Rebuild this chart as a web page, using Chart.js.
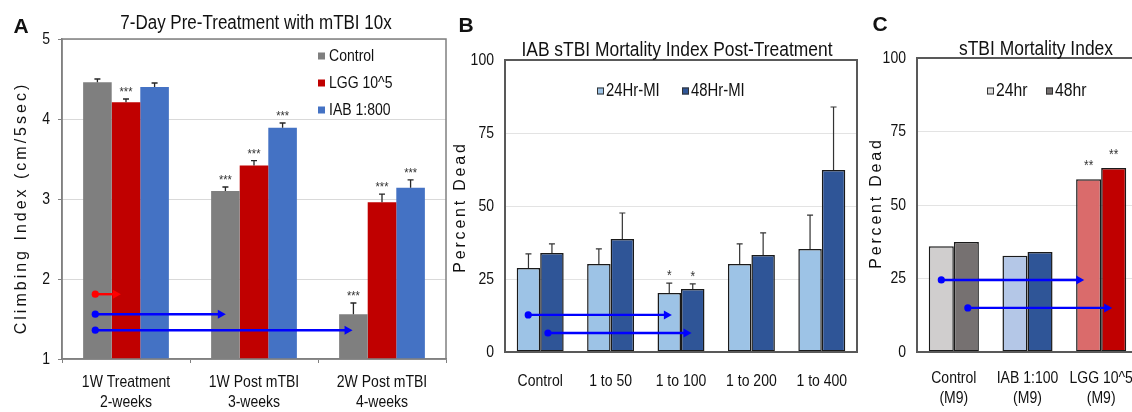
<!DOCTYPE html>
<html><head><meta charset="utf-8">
<script src="https://cdn.jsdelivr.net/npm/chart.js@4.4.0/dist/chart.umd.min.js"></script>
<style>
html,body{margin:0;padding:0;background:#fff;overflow:hidden;width:1132px;height:412px;position:relative}
canvas{position:absolute;top:0}
</style></head><body>
<canvas id="cA" width="452" height="412" style="left:0px"></canvas>
<canvas id="cB" width="417" height="412" style="left:448px"></canvas>
<canvas id="cC" width="282" height="412" style="left:866px"></canvas>
<script>
// ---------- Panel A data ----------
const aCategories = [['1W Treatment', '2-weeks'], ['1W Post mTBI', '3-weeks'], ['2W Post mTBI', '4-weeks']];
const aSeriesNames = ['Control', 'LGG 10^5', 'IAB 1:800'];
const aControl = [4.46, 3.10, 1.56];
const aLGG = [4.21, 3.42, 2.96];
const aIAB = [4.40, 3.89, 3.14];
const aControlErr = [0.04, 0.05, 0.14];
const aLGGErr = [0.04, 0.06, 0.10];
const aIABErr = [0.05, 0.06, 0.10];
const aControlSig = ['', '***', '***'];
const aLGGSig = ['***', '***', '***'];
const aIABSig = ['', '***', '***'];
const aYTicks = [1, 2, 3, 4, 5];
const aArrowY = [1.81, 1.56, 1.36];
const aArrowFrom = [-0.24, -0.24, -0.24];
const aArrowTo = [-0.04, 0.78, 1.77];

// ---------- Panel B data ----------
const bCategories = ['Control', '1 to 50', '1 to 100', '1 to 200', '1 to 400'];
const bSeriesNames = ['24Hr-MI', '48Hr-MI'];
const b24 = [28.8, 30.1, 20.2, 30.1, 35.3];
const b48 = [33.9, 38.7, 21.6, 33.2, 62.3];
const b24Err = [4.8, 5.2, 3.4, 6.9, 11.6];
const b48Err = [3.1, 8.9, 1.7, 7.6, 21.6];
const b24Sig = ['', '', '*', '', ''];
const b48Sig = ['', '', '*', '', ''];
const bYTicks = [0, 25, 50, 75, 100];
const bArrowY = [12.7, 6.5];
const bArrowFrom = [-0.17, 0.11];
const bArrowTo = [1.87, 2.15];

// ---------- Panel C data ----------
const cCategories = [['Control', '(M9)'], ['IAB 1:100', '(M9)'], ['LGG 10^5', '(M9)']];
const cSeriesNames = ['24hr', '48hr'];
const c24 = [36.0, 32.7, 58.8];
const c48 = [37.4, 34.0, 62.6];
const c24Sig = ['', '', '**'];
const c48Sig = ['', '', '**'];
const cYTicks = [0, 25, 50, 75, 100];
const cArrowY = [24.5, 15.0];
const cArrowFrom = [-0.17, 0.19];
const cArrowTo = [1.77, 2.15];

// ---------- styling ----------
const FONT = "'Liberation Sans',Arial,sans-serif";
const TXT = '#111111';
const NARROW_FACTOR = 0.85;
Chart.defaults.font.family = FONT;
Chart.defaults.color = TXT;
Chart.defaults.animation = false;

// condensed look for canvas text (Arial-Narrow-like), text stays real text
function narrowText(canvas, f) {
  const ctx = canvas.getContext('2d');
  const orig = ctx.fillText;
  ctx.narrow = f;
  ctx.fillText = function (text, x, y, mw) {
    const k = this.narrow;
    if (k === 1) {
      return mw === undefined ? orig.call(this, text, x, y) : orig.call(this, text, x, y, mw);
    }
    this.save();
    this.translate(x, y);
    this.scale(k, 1);
    if (mw === undefined) orig.call(this, text, 0, 0); else orig.call(this, text, 0, 0, mw / k);
    this.restore();
  };
}

const decor = {
  id: 'decor',
  afterDatasetsDraw(chart, args, o) {
    const ctx = chart.ctx, ys = chart.scales.y;
    ctx.save();
    chart.data.datasets.forEach((ds, di) => {
      const meta = chart.getDatasetMeta(di);
      meta.data.forEach((bar, i) => {
        const v = ds.data[i];
        const e = ds.errors ? ds.errors[i] : 0;
        const topPx = ys.getPixelForValue(v + e);
        if (e > 0) {
          ctx.strokeStyle = o.errColor; ctx.lineWidth = o.errWidth;
          ctx.beginPath();
          ctx.moveTo(bar.x, bar.y); ctx.lineTo(bar.x, topPx);
          ctx.moveTo(bar.x - o.capHalf, topPx); ctx.lineTo(bar.x + o.capHalf, topPx);
          ctx.stroke();
        }
        const s = ds.sig ? ds.sig[i] : '';
        if (s) {
          ctx.fillStyle = '#333333'; ctx.font = o.sigFont;
          ctx.textAlign = 'center'; ctx.textBaseline = 'alphabetic';
          ctx.fillText(s, bar.x, topPx - o.sigGap);
        }
      });
    });
    ctx.restore();
  },
  afterDraw(chart, args, o) {
    const ctx = chart.ctx, ca = chart.chartArea, xs = chart.scales.x, ys = chart.scales.y;
    ctx.save();
    // frame
    ctx.strokeStyle = o.frameColor; ctx.lineWidth = o.frameWidth;
    ctx.strokeRect(ca.left, ca.top, ca.right - ca.left, ca.bottom - ca.top);
    // arrows
    (o.arrows || []).forEach(a => {
      a.y.forEach((yv, k) => {
        const y = ys.getPixelForValue(yv);
        const x1 = xs.getPixelForValue(a.from[k]);
        const x2 = xs.getPixelForValue(a.to[k]);
        const col = a.colors[k];
        ctx.strokeStyle = col; ctx.fillStyle = col; ctx.lineWidth = 2.4;
        ctx.beginPath(); ctx.moveTo(x1, y); ctx.lineTo(x2 - 6, y); ctx.stroke();
        ctx.beginPath(); ctx.arc(x1, y, 3.6, 0, Math.PI * 2); ctx.fill();
        ctx.beginPath(); ctx.moveTo(x2, y); ctx.lineTo(x2 - 8, y - 4.5); ctx.lineTo(x2 - 8, y + 4.5); ctx.closePath(); ctx.fill();
      });
    });
    // legend
    const L = o.legend;
    if (L) {
      chart.data.datasets.forEach((ds, di) => {
        const x = ca.left + L.x + di * L.dx, y = ca.top + L.y + di * L.dy;
        ctx.fillStyle = ds.legendColor || ds.backgroundColor;
        ctx.fillRect(x, y - L.box / 2, L.box, L.box);
        if (L.border) { ctx.strokeStyle = L.border; ctx.lineWidth = 1; ctx.strokeRect(x + 0.5, y - L.box / 2 + 0.5, L.box - 1, L.box - 1); }
        ctx.fillStyle = TXT; ctx.font = L.font; ctx.textAlign = 'left'; ctx.textBaseline = 'middle';
        ctx.fillText(ds.label, x + L.box + L.gap, y);
      });
    }
    // texts
    (o.texts || []).forEach(t => {
      ctx.save();
      const keep = ctx.narrow;
      if (t.wide) ctx.narrow = 1;
      ctx.font = t.font; ctx.fillStyle = TXT; ctx.textAlign = 'center'; ctx.textBaseline = 'middle';
      ctx.translate(t.x, t.y);
      if (t.rot) ctx.rotate(-Math.PI / 2);
      if (t.spacing) ctx.letterSpacing = t.spacing + 'px';
      ctx.fillText(t.text, 0, 0);
      ctx.narrow = keep;
      ctx.restore();
    });
    ctx.restore();
  }
};

function makeChart(id, cfg) {
  const canvas = document.getElementById(id);
  narrowText(canvas, NARROW_FACTOR);
  return new Chart(canvas, {
    type: 'bar',
    data: { labels: cfg.labels, datasets: cfg.datasets },
    options: {
      responsive: false,
      devicePixelRatio: 1,
      layout: { padding: { left: 0, right: cfg.padRight, top: cfg.padTop, bottom: 0 } },
      plugins: { legend: { display: false }, tooltip: { enabled: false }, title: { display: false }, decor: cfg.decor },
      datasets: { bar: { categoryPercentage: cfg.catPct, barPercentage: 1 } },
      scales: {
        x: {
          afterFit: s => { s.height = cfg.xHeight; },
          grid: cfg.xGrid,
          border: { display: true, color: cfg.frameColor, width: 1.5 },
          ticks: { font: { size: 16.5, lineHeight: 1.27 }, padding: cfg.xPad, color: TXT, maxRotation: 0, autoSkip: false }
        },
        y: {
          min: cfg.yTicks[0], max: cfg.yTicks[cfg.yTicks.length - 1],
          afterFit: s => { s.width = cfg.yWidth; },
          afterBuildTicks: s => { s.ticks = cfg.yTicks.map(v => ({ value: v })); },
          grid: cfg.yGrid,
          border: { display: true, color: cfg.frameColor, width: 1.5 },
          ticks: { font: { size: 16.5 }, padding: cfg.yPad, color: TXT }
        }
      }
    },
    plugins: [decor]
  });
}

// Panel A
makeChart('cA', {
  labels: aCategories,
  datasets: [
    { label: aSeriesNames[0], data: aControl, errors: aControlErr, sig: aControlSig, backgroundColor: '#7f7f7f', borderWidth: 0 },
    { label: aSeriesNames[1], data: aLGG, errors: aLGGErr, sig: aLGGSig, backgroundColor: '#c00000', borderWidth: 0 },
    { label: aSeriesNames[2], data: aIAB, errors: aIABErr, sig: aIABSig, backgroundColor: '#4472c4', borderWidth: 0 }
  ],
  yTicks: aYTicks, padTop: 39, padRight: 6, xHeight: 53, yWidth: 62, catPct: 0.67,
  frameColor: '#808080', xPad: 8.5, yPad: 8,
  xGrid: { display: true, drawOnChartArea: false, drawTicks: true, tickLength: 4, color: '#808080' },
  yGrid: { color: '#d9d9d9', drawTicks: true, tickLength: 4, tickColor: '#808080' },
  decor: {
    frameColor: '#808080', frameWidth: 1.5, errColor: '#262626', errWidth: 1.3, capHalf: 3,
    sigFont: '13px ' + FONT, sigGap: 3,
    arrows: [{ y: aArrowY, from: aArrowFrom, to: aArrowTo, colors: ['#ff0000', '#0000ff', '#0000ff'] }],
    legend: { x: 256, y: 17, dx: 0, dy: 27, box: 7, gap: 4, font: '16.5px ' + FONT, border: null },
    texts: [
      { text: 'A', x: 21, y: 27, wide: true, font: 'bold 21px ' + FONT },
      { text: '7-Day Pre-Treatment with mTBI 10x', x: 256, y: 23, font: '20px ' + FONT },
      { text: 'Climbing Index (cm/5sec)', x: 22, y: 208, rot: true, wide: true, spacing: 3, font: '16px ' + FONT }
    ]
  }
});

// Panel B
makeChart('cB', {
  labels: bCategories,
  datasets: [
    { label: bSeriesNames[0], data: b24, errors: b24Err, sig: b24Sig, backgroundColor: '#9dc3e6', borderColor: '#1a1a1a', borderWidth: 1.5, borderSkipped: false },
    { label: bSeriesNames[1], data: b48, errors: b48Err, sig: b48Sig, backgroundColor: '#2f5597', borderColor: '#1a1a1a', borderWidth: 1.5, borderSkipped: false }
  ],
  yTicks: bYTicks, padTop: 60, padRight: 8, xHeight: 60, yWidth: 57, catPct: 0.667,
  frameColor: '#595959', xPad: 10.5, yPad: 11,
  xGrid: { display: false },
  yGrid: { color: '#e3e3e3', drawTicks: false },
  decor: {
    frameColor: '#595959', frameWidth: 2, errColor: '#333333', errWidth: 1.2, capHalf: 3,
    sigFont: '14px ' + FONT, sigGap: 3,
    arrows: [{ y: bArrowY, from: bArrowFrom, to: bArrowTo, colors: ['#0000ff', '#0000ff'] }],
    legend: { x: 92, y: 31, dx: 85, dy: 0, box: 7, gap: 2, font: '17.5px ' + FONT, border: '#333333' },
    texts: [
      { text: 'B', x: 18, y: 26, wide: true, font: 'bold 21px ' + FONT },
      { text: 'IAB sTBI Mortality Index Post-Treatment', x: 229, y: 50, font: '20.5px ' + FONT },
      { text: 'Percent Dead', x: 13, y: 207, rot: true, wide: true, spacing: 2.8, font: '16px ' + FONT }
    ]
  }
});

// Panel C
makeChart('cC', {
  labels: cCategories,
  datasets: [
    { label: cSeriesNames[0], data: c24, sig: c24Sig, backgroundColor: ['#d0cece', '#b4c7e7', '#da6b6b'], legendColor: '#d9d9d9', borderColor: '#1a1a1a', borderWidth: 1.5, borderSkipped: false },
    { label: cSeriesNames[1], data: c48, sig: c48Sig, backgroundColor: ['#767171', '#2f5597', '#c00000'], legendColor: '#767171', borderColor: '#1a1a1a', borderWidth: 1.5, borderSkipped: false }
  ],
  yTicks: cYTicks, padTop: 58, padRight: 10, xHeight: 60, yWidth: 51, catPct: 0.68,
  frameColor: '#595959', xPad: 7.5, yPad: 11,
  xGrid: { display: false },
  yGrid: { color: '#e3e3e3', drawTicks: false },
  decor: {
    frameColor: '#595959', frameWidth: 2, errColor: '#333333', errWidth: 1.2, capHalf: 3,
    sigFont: '14px ' + FONT, sigGap: 9,
    arrows: [{ y: cArrowY, from: cArrowFrom, to: cArrowTo, colors: ['#0000ff', '#0000ff'] }],
    legend: { x: 70, y: 33, dx: 59, dy: 0, box: 7, gap: 2, font: '18.5px ' + FONT, border: '#333333' },
    texts: [
      { text: 'C', x: 14, y: 25, wide: true, font: 'bold 21px ' + FONT },
      { text: 'sTBI Mortality Index', x: 170, y: 49, font: '20.5px ' + FONT },
      { text: 'Percent Dead', x: 11, y: 203, rot: true, wide: true, spacing: 2.8, font: '16px ' + FONT }
    ]
  }
});
</script>
</body></html>
